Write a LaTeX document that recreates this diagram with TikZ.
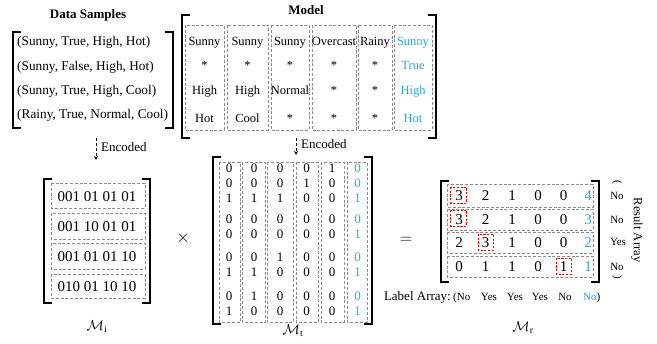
\documentclass[tikz,border=0pt]{standalone}
\usepackage{fontspec}
\setmainfont{Liberation Serif}
\usetikzlibrary{arrows.meta}
\definecolor{cblue}{RGB}{41,168,224}
\definecolor{dgray}{RGB}{140,140,140}
\newcommand\LBrk[3]{\draw[brk] ({#1+8},#2) -- (#1,#2) -- (#1,#3) -- ({#1+8},#3);}
\newcommand\RBrk[3]{\draw[brk] ({#1-8},#2) -- (#1,#2) -- (#1,#3) -- ({#1-8},#3);}
\begin{document}
\begin{tikzpicture}[x=1pt,y=-1pt,
 dbox/.style={draw=dgray, dash pattern=on 3pt off 1.8pt, line width=0.7pt},
 rbox/.style={draw=red, dash pattern=on 2.2pt off 1.5pt, line width=0.8pt},
 brk/.style={line width=1.8pt},
 ttl/.style={font=\fontsize{13}{15}\selectfont\bfseries, inner sep=0pt},
 dsx/.style={font=\fontsize{13.3}{15}\selectfont, anchor=base west, inner sep=0pt},
 mdx/.style={font=\fontsize{12.5}{14}\selectfont, anchor=base, inner sep=0pt},
 enc/.style={font=\fontsize{13}{15}\selectfont, anchor=west, inner sep=0pt},
 mix/.style={font=\fontsize{15}{17}\selectfont, anchor=base, inner sep=0pt},
 mtx/.style={font=\fontsize{13}{15}\selectfont, anchor=base, inner sep=0pt},
 mrx/.style={font=\fontsize{15}{17}\selectfont, anchor=base, inner sep=0pt},
 lbx/.style={font=\fontsize{11}{13}\selectfont, anchor=base, inner sep=0pt},
 mlab/.style={font=\fontsize{14}{16}\selectfont, inner sep=0pt},
 arr/.style={dash pattern=on 3pt off 2pt, line width=0.9pt, -{Stealth[length=4pt,width=4pt]}},
]
\useasboundingbox (0,0) rectangle (657,344);

% ---------- Data samples ----------
\node[ttl] (dst) at (88,15) {Data Samples};
\LBrk{13}{32}{128}
\RBrk{173}{32}{128}
\node[dsx] (ds1) at (17,46) {(Sunny, True, High, Hot)};
\node[dsx] (ds2) at (17,71) {(Sunny, False, High, Hot)};
\node[dsx] (ds3) at (17,95) {(Sunny, True, High, Cool)};
\node[dsx] (ds4) at (17,119) {(Rainy, True, Normal, Cool)};

% ---------- Model ----------
\node[ttl] (mdt) at (306,10) {Model};
\LBrk{182}{15}{138}
\RBrk{436}{15}{138}
\draw[dbox] (185,25) rectangle (224,130);
\draw[dbox] (227,25) rectangle (268,130);
\draw[dbox] (271,25) rectangle (309,130);
\draw[dbox] (312,25) rectangle (356,130);
\draw[dbox] (358,25) rectangle (392,130);
\draw[dbox] (394,25) rectangle (432,130);
\foreach \c/\x/\a/\b/\cc/\d/\col in {
  1/204.5/Sunny/*/High/Hot/black,
  2/247.5/Sunny/*/High/Cool/black,
  3/290/Sunny/*/Normal/*/black,
  4/334/Overcast/*/*/*/black,
  5/375/Rainy/*/*/*/black,
  6/413/Sunny/True/High/Hot/cblue}{
  \node[mdx, text=\col] (m\c a) at (\x,46) {\a};
  \node[mdx, text=\col] (m\c b) at (\x,70) {\b};
  \node[mdx, text=\col] (m\c c) at (\x,95) {\cc};
  \node[mdx, text=\col] (m\c d) at (\x,123) {\d};
}

% ---------- arrows ----------
\coordinate (a1s) at (96,138);
\coordinate (a1e) at (96,160);
\draw[arr] (a1s) -- (a1e);
\node[enc] (enc1) at (101,147) {Encoded};
\coordinate (a2s) at (296,138);
\coordinate (a2e) at (296,155);
\draw[arr] (a2s) -- (a2e);
\node[enc] (enc2) at (301,144) {Encoded};

% ---------- M_i ----------
\LBrk{44}{179}{303}
\RBrk{150}{179}{303}
\draw[dbox] (51,183) rectangle (145,208);
\draw[dbox] (51,213) rectangle (145,239);
\draw[dbox] (51,243) rectangle (145,269);
\draw[dbox] (51,274) rectangle (145,298);
\node[mix] (mi1) at (97,202) {001 01 01 01};
\node[mix] (mi2) at (97,232) {001 10 01 01};
\node[mix] (mi3) at (97,262) {001 01 01 10};
\node[mix] (mi4) at (97,292) {010 01 10 10};
\node[mlab] (mil) at (97,327) {$\mathcal{M}_{\mathrm{i}}$};

\node[font=\fontsize{17}{19}\selectfont, inner sep=0pt] (times) at (183,238) {$\times$};

% ---------- M_t ----------
\LBrk{213}{157}{324}
\RBrk{372}{157}{324}
\draw[dbox] (219,162) rectangle (240,322);
\draw[dbox] (242,162) rectangle (265,322);
\draw[dbox] (267,162) rectangle (293,322);
\draw[dbox] (296,162) rectangle (318,322);
\draw[dbox] (321,162) rectangle (344,322);
\draw[dbox] (347,162) rectangle (367,322);
\foreach \r/\y/\vals in {
  1/172.5/{0,0,0,0,1,0},
  2/187.5/{0,0,0,1,0,0},
  3/203/{1,1,1,0,0,1},
  4/224/{0,0,0,0,0,0},
  5/238.5/{0,0,0,0,0,1},
  6/262/{0,0,1,0,0,0},
  7/277/{1,1,0,0,0,1},
  8/301/{0,1,0,0,0,0},
  9/316/{1,0,0,0,0,1}}{
  \foreach \v [count=\c] in \vals {
    \pgfmathsetmacro\xx{{229,254,280,306.5,332,357.5}[\c-1]}
    \ifnum\c=6\def\tc{cblue}\else\def\tc{black}\fi
    \node[mtx, text=\tc] (mt\r-\c) at (\xx,\y) {\v};
  }
}
\node[mlab] (mtl) at (293,331) {$\mathcal{M}_{\mathrm{t}}$};

\node[font=\fontsize{16}{18}\selectfont, inner sep=0pt] (eq) at (406,240) {$=$};

% ---------- M_r ----------
\LBrk{441}{181}{282}
\RBrk{599}{181}{282}
\draw[dbox] (447,184) rectangle (593,207);
\draw[dbox] (447,209) rectangle (593,230);
\draw[dbox] (447,232) rectangle (593,253);
\draw[dbox] (447,256) rectangle (593,277);
\foreach \r/\y/\vals in {
  1/201/{3,2,1,0,0,4},
  2/225/{3,2,1,0,0,3},
  3/247.5/{2,3,1,0,0,2},
  4/272/{0,1,1,0,1,1}}{
  \foreach \v [count=\c] in \vals {
    \pgfmathsetmacro\xx{{459,485.5,512,538,563.5,588}[\c-1]}
    \ifnum\c=6\def\tc{cblue}\else\def\tc{black}\fi
    \node[mrx, text=\tc] (mr\r-\c) at (\xx,\y) {\v};
  }
}
\draw[rbox] (450.5,187) rectangle (466.5,203);
\draw[rbox] (450.5,210) rectangle (466.5,226);
\draw[rbox] (478,234) rectangle (493.5,250);
\draw[rbox] (556,258) rectangle (571.5,274);

% result array
\node[lbx, anchor=center, rotate=-90] (rpo) at (617,182) {(};
\node[lbx] (rs1) at (617,200) {No};
\node[lbx] (rs2) at (617,224) {No};
\node[lbx] (rs3) at (618,246) {Yes};
\node[lbx] (rs4) at (617,271) {No};
\node[lbx, anchor=center, rotate=-90] (rpc) at (617,277) {)};
\node[font=\fontsize{12.6}{14}\selectfont, inner sep=0pt, rotate=-90] (rat) at (637,230) {Result Array};

% label array
\node[font=\fontsize{13}{15}\selectfont, inner sep=0pt, anchor=base east] (lat) at (451,301) {Label Array:};
\node[lbx, anchor=base west] (la1) at (453,301) {(No};
\node[lbx] (la2) at (489,301) {Yes};
\node[lbx] (la3) at (515,301) {Yes};
\node[lbx] (la4) at (540,301) {Yes};
\node[lbx] (la5) at (565,301) {No};
\node[lbx, anchor=base west] (la6) at (583,301) {\textcolor{cblue}{No})};
\node[mlab] (mrl) at (523,328) {$\mathcal{M}_{\mathrm{r}}$};
\end{tikzpicture}
\end{document}
